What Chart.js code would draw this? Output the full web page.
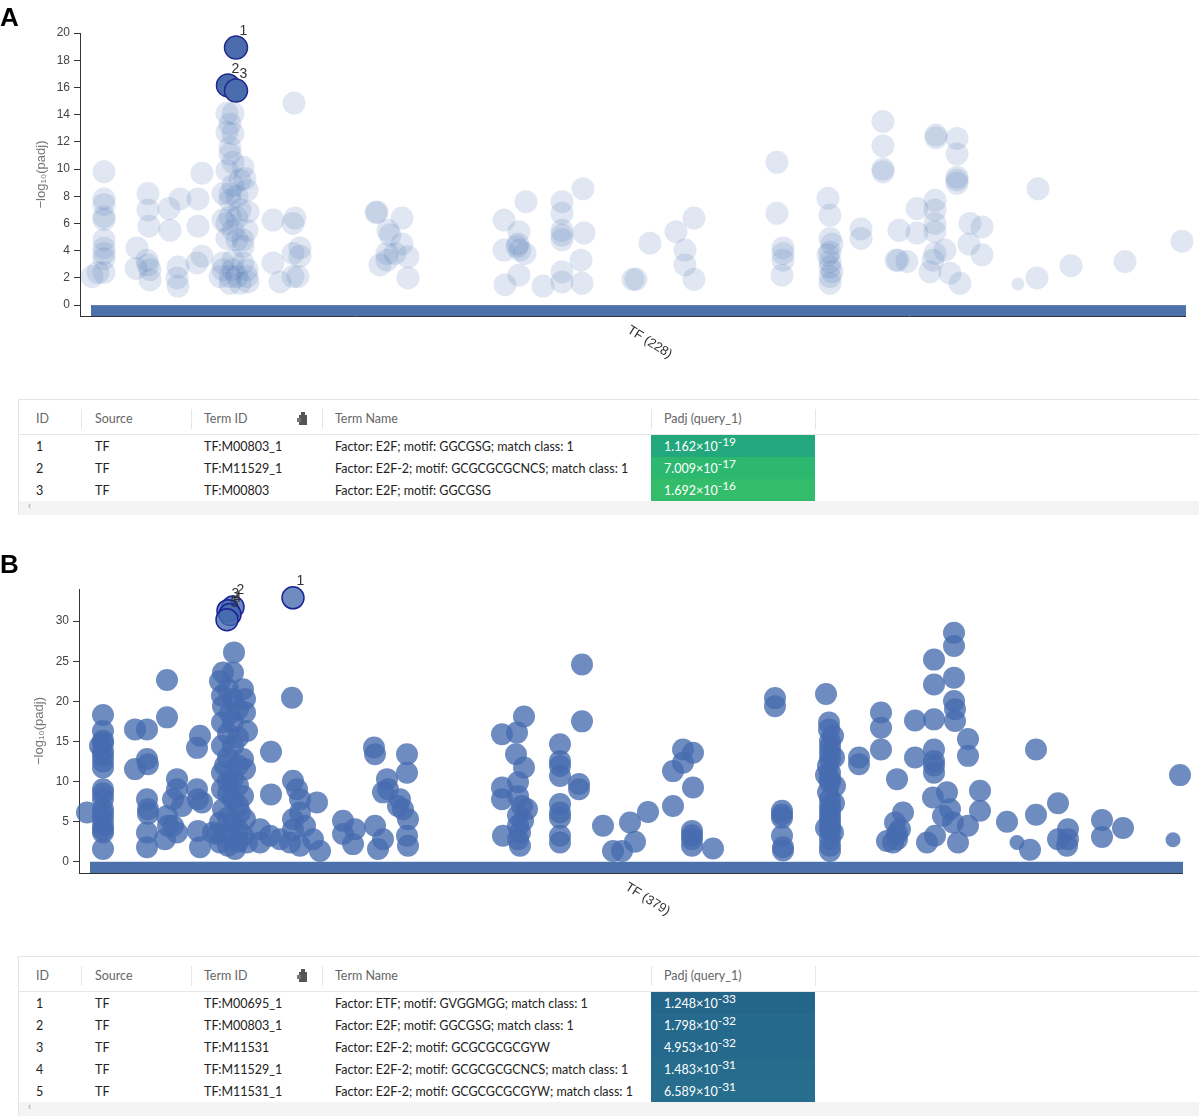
<!DOCTYPE html>
<html><head><meta charset="utf-8">
<script src="https://cdn.jsdelivr.net/npm/chart.js@4.4.0/dist/chart.umd.min.js"></script>
<style>
html,body{margin:0;padding:0;background:#fff;}
body{width:1199px;height:1116px;position:relative;overflow:hidden;font-family:Lato,"Noto Sans",sans-serif;}
canvas{position:absolute;left:0;}
.panel{position:absolute;left:0;font:bold 26px "Liberation Sans",Arial,sans-serif;color:#000;line-height:26px;}
.tbox{position:absolute;left:18px;right:0;border-top:1px solid #e4e4e4;border-left:1px solid #e4e4e4;}
.t{position:absolute;white-space:nowrap;line-height:22px;}
.hd{color:#666;font-size:12.5px;}
.bd{color:#222;font-size:12.5px;}
.sep{position:absolute;width:1px;background:#e6e6e6;}
.hl{position:absolute;left:0;right:0;height:1px;background:#e6e6e6;}
.pcell{position:absolute;}
.pv{color:#fff;font-size:12.5px;}
.pv sup{font-size:12px;vertical-align:5px;line-height:0;}
.scroll{position:absolute;left:0;right:0;height:14px;background:#f4f4f4;}
</style></head><body>
<canvas id="cA" width="1199" height="360" style="top:0"></canvas>
<canvas id="cB" width="1199" height="360" style="top:560px"></canvas>
<div id="tables"></div>
<div class="panel" style="top:4px">A</div>
<div class="panel" style="top:551px">B</div>
<script>
// ---------- Panel A data ----------
const sourceA = "TF (228)";
const yTicksA = [0,2,4,6,8,10,12,14,16,18,20];
const termPosA = [
 1,13,13,13,13,13,13,13,13,13,13,7,
 46,45,57,57,58,57,59,59,56,78,79,89,87,86,87,107,107,111,111,106,
 136,142,136,142,139,139,136,152,154,156,132,139,142,139,149,157,132,139,146,156,136,146,152,142,152,132,142,152,129,139,146,156,139,149,157,142,132,156,136,149,146,142,139,
 182,182,189,203,204,202,209,209,202,207,202,
 286,285,297,299,311,311,296,289,296,304,317,317,
 413,413,414,435,428,427,429,434,428,426,452,
 471,471,471,471,471,492,493,490,471,471,491,
 542,545,559,585,603,594,594,603,
 686,686,692,692,691,692,
 737,739,739,741,739,739,739,741,739,739,737,770,770,
 792,792,792,792,807,816,805,808,826,826,
 845,845,866,866,866,866,866,844,844,844,844,844,842,839,854,859,869,879,878,891,891,
 946,947,980,1034,1091
];
const negLogPadjA = [
 2.1,9.8,7.8,7.4,6.5,6.3,4.8,4.2,3.8,3.4,2.4,2.4,
 4.2,2.7,8.2,7.0,5.8,2.95,2.6,1.85,3.3,7.1,5.5,7.8,2.8,2.0,1.4,7.8,5.8,9.7,3.6,3.1,
 14.1,14.1,12.7,12.6,11.6,11.1,9.9,10.15,9.3,8.45,8.2,8.2,8.8,7.7,9.2,6.85,6.25,6.5,6.4,5.5,4.9,4.8,4.8,5.5,4.3,3.1,3.3,3.1,2.1,2.1,2.1,2.1,1.6,1.6,1.7,2.6,2.6,2.6,6.0,7.0,8.0,10.5,13.3,
 6.25,3.1,1.7,14.85,6.4,6.0,4.2,3.6,3.8,2.1,2.1,
 6.85,6.8,5.5,5.15,6.4,4.5,3.8,2.95,3.3,3.8,3.55,2.0,
 6.25,4.05,1.5,7.6,5.4,4.5,4.05,3.8,2.2,4.3,1.4,
 7.6,6.75,5.5,5.15,4.8,8.55,5.3,3.3,2.45,1.7,1.6,
 1.9,1.9,4.55,5.4,6.4,4.05,2.95,1.9,
 10.5,6.75,3.8,4.2,2.2,3.3,
 7.85,6.6,4.9,4.5,3.9,3.2,2.8,2.45,2.1,1.6,3.7,5.6,4.9,
 13.5,11.7,10.0,9.8,3.3,3.2,3.3,5.5,7.1,5.3,
 12.5,12.3,12.25,11.1,9.2,8.95,9.4,7.7,7.0,6.0,5.4,3.8,3.3,2.45,4.05,2.35,1.6,6.0,4.5,5.75,3.7,
 2.0,8.55,2.9,3.2,4.7
];
const smallPosA = [927];
const smallNegLogA = [1.55];
const topIdsA = [1,2,3];
const topPosA = [145,137,145];
const topNegLogA = [18.93,16.15,15.77];

// ---------- Panel B data ----------
const sourceB = "TF (379)";
const yTicksB = [0,5,10,15,20,25,30];
const termPosB = [
 -3,13,13,13,13,13,13,13,13,13,13,13,13,13,13,13,13,13,13,10,
 45,45,57,57,58,57,58,57,57,58,
 77,77,77,78,75,87,87,83,92,87,83,
 107,110,107,108,112,108,110,
 144,133,143,130,153,132,143,155,133,155,132,143,157,132,143,153,155,132,143,132,153,143,133,150,130,143,155,127,140,153,130,145,157,123,
 138,148,138,148,138,148,138,148,138,148,138,148,138,148,135,140,
 170,170,180,190,181,181,202,203,207,210,203,210,200,210,223,227,230,215,203,
 253,253,265,263,
 284,285,285,288,293,297,293,298,317,317,310,313,318,317,318,308,
 412,427,434,426,434,412,412,428,428,432,437,433,413,430,430,428,428,428,
 470,470,470,470,470,470,470,470,470,492,492,489,489,
 513,523,532,540,545,558,583,583,593,603,593,603,602,602,602,623,602,
 685,685,692,692,692,693,692,693,
 736,739,739,740,740,738,740,738,740,740,740,740,740,743,745,743,740,740,740,740,740,740,740,740,740,744,744,736,736,
 769,769,791,791,791,807,813,805,797,807,810,807,803,
 825,825,844,844,844,844,844,844,843,857,837,845,853,860,863,868,878,844,
 864,864,864,864,865,865,878,878,890,890,
 917,940,946,946,968,978,978,977,968,1012,1012,1033,1090
];
const negLogPadjB = [
 6.15,18.3,16.3,15.1,13.8,13.2,11.75,9.05,7.8,6.55,5.3,4.5,3.65,1.6,14.8,12.5,8.5,6.0,4.0,14.45,
 16.5,11.55,16.5,12.8,12.15,7.8,6.55,3.65,1.8,6.0,
 22.65,18.0,5.7,4.5,2.8,10.3,9.05,7.8,6.95,3.65,4.5,
 14.2,15.7,9.05,7.8,7.4,3.85,1.8,
 26.1,23.6,23.6,22.5,21.5,20.7,20.3,20.3,19.4,18.6,17.35,17.35,16.3,14.45,14.45,12.8,11.55,11.1,10.3,9.05,8.2,7.8,6.55,6.15,4.9,4.9,5.3,3.45,3.25,3.25,2.4,1.6,2.4,3.65,
 21.5,19.0,16.0,15.5,13.0,12.0,10.0,9.5,8.5,7.0,5.5,4.0,2.0,2.5,12.0,18.5,
 4.05,2.4,3.25,2.8,13.7,8.4,20.45,10.1,9.05,7.8,5.3,6.15,2.4,2.0,2.8,7.4,1.35,4.5,4.0,
 5.1,3.45,4.05,2.2,
 14.25,13.4,4.5,1.6,2.8,10.3,8.65,9.05,13.4,11.1,7.8,6.55,5.3,3.25,2.0,6.95,
 15.9,16.1,18.1,13.4,11.75,9.25,7.8,9.9,8.2,6.95,6.55,5.1,3.25,3.65,2.0,2.8,5.8,4.5,
 14.65,12.55,11.95,10.7,7.2,6.15,5.5,3.25,2.4,24.6,17.5,9.7,9.05,
 4.5,1.35,1.35,4.9,2.5,6.2,6.95,11.3,14.0,13.6,12.35,9.25,3.85,2.8,2.0,1.65,3.3,
 20.4,19.4,6.35,5.5,3.25,1.8,5.9,1.4,
 20.9,17.35,16.5,15.05,13.6,11.95,10.3,8.65,6.95,5.7,4.5,2.8,1.35,15.7,9.45,3.65,14.3,12.8,11.1,9.9,7.8,6.3,5.1,3.9,2.0,13.0,7.3,10.8,4.2,
 13.0,12.15,18.6,16.7,14.0,10.3,6.15,4.9,2.6,2.8,4.05,3.5,2.4,
 17.6,13.0,25.2,22.1,17.75,14.0,12.55,11.1,8.0,8.65,2.4,3.25,5.7,6.55,4.9,2.4,4.5,12.0,
 28.55,26.9,22.95,20.05,19.0,17.55,15.3,13.2,8.85,6.35,
 5.0,1.5,14.0,5.85,7.3,4.05,2.8,2.0,2.8,5.2,3.1,4.2,10.8
];
const smallPosB = [927,1083];
const smallNegLogB = [2.4,2.75];
const topIdsB = [1,2,3,4,5];
const topPosB = [203,143,138,140,137];
const topNegLogB = [32.9,31.75,31.3,30.83,30.18];

// ---------- Table data ----------
const headers = ["ID","Source","Term ID","Term Name","Padj (query_1)"];
const idsA = ["1","2","3"];
const srcA = ["TF","TF","TF"];
const termIdA = ["TF:M00803_1","TF:M11529_1","TF:M00803"];
const termNameA = ["Factor: E2F; motif: GGCGSG; match class: 1","Factor: E2F-2; motif: GCGCGCGCNCS; match class: 1","Factor: E2F; motif: GGCGSG"];
const padjMantA = ["1.162","7.009","1.692"];
const padjExpA = ["-19","-17","-16"];
const idsB = ["1","2","3","4","5"];
const srcB = ["TF","TF","TF","TF","TF"];
const termIdB = ["TF:M00695_1","TF:M00803_1","TF:M11531","TF:M11529_1","TF:M11531_1"];
const termNameB = ["Factor: ETF; motif: GVGGMGG; match class: 1","Factor: E2F; motif: GGCGSG; match class: 1","Factor: E2F-2; motif: GCGCGCGCGYW","Factor: E2F-2; motif: GCGCGCGCNCS; match class: 1","Factor: E2F-2; motif: GCGCGCGCGYW; match class: 1"];
const padjMantB = ["1.248","1.798","4.953","1.483","6.589"];
const padjExpB = ["-33","-32","-32","-31","-31"];

// ---------- charts ----------
function pts(xs, ys){ return xs.map((x,i)=>({x:x, y:ys[i]})); }

function makeChart(id, c){
  const plug = {
    id: 'deco'+id,
    beforeDatasetsDraw(chart){
      const {ctx, chartArea:ca, scales:{x, y}} = chart;
      const x0 = x.getPixelForValue(0), y0 = y.getPixelForValue(0);
      ctx.save();
      ctx.fillStyle = '#4d71aa';
      ctx.fillRect(x0, y0, ca.right - x0, ca.bottom - y0);
      ctx.strokeStyle = '#333'; ctx.lineWidth = 1;
      ctx.beginPath(); ctx.moveTo(ca.left, ca.bottom + 0.5); ctx.lineTo(ca.right, ca.bottom + 0.5); ctx.stroke();
      ctx.restore();
    },
    afterDatasetsDraw(chart){
      const {ctx, chartArea:ca, scales:{x}} = chart;
      ctx.save();
      ctx.fillStyle = '#333';
      ctx.font = '14px "Liberation Sans", Arial, sans-serif';
      ctx.textAlign = 'center'; ctx.textBaseline = 'middle';
      const meta = chart.getDatasetMeta(2);
      meta.data.forEach((el, i) => { ctx.fillText(String(c.topIds[i]), el.x + 7.5, el.y - 16.5); });
      const x0 = x.getPixelForValue(0);
      const xc = (x0 + ca.right) / 2;
      ctx.translate(xc - 10, ca.bottom + 13);
      ctx.rotate(32 * Math.PI / 180);
      ctx.font = '13px "Liberation Sans", Arial, sans-serif';
      ctx.textAlign = 'left';
      ctx.fillText(c.xTitle, 0, 0);
      ctx.restore();
    }
  };
  return new Chart(document.getElementById(id), {
    type: 'scatter',
    data: { datasets: [
      { data: pts(c.xs, c.ys), pointRadius: c.r, pointHoverRadius: c.r, backgroundColor: c.fill, borderWidth: 0, clip: false },
      { data: pts(c.sx, c.sy), pointRadius: c.smallR, pointHoverRadius: c.smallR, backgroundColor: c.fill, borderWidth: 0, clip: false },
      { data: pts(c.tx, c.ty), pointRadius: c.r, pointHoverRadius: c.r, backgroundColor: c.topFill, borderColor: c.topBorder, borderWidth: 1.5, clip: false }
    ]},
    options: {
      responsive: false, animation: false, events: [],
      layout: { padding: { left: 0, right: c.padR, top: c.padT, bottom: c.padB } },
      plugins: { legend: { display: false }, tooltip: { enabled: false } },
      scales: {
        x: { type: 'linear', display: false, min: c.xMin, max: c.xMax },
        y: {
          type: 'linear', min: c.yMin, max: c.yMax,
          afterBuildTicks: ax => { ax.ticks = c.yTicks.map(v => ({ value: v })); },
          afterFit: ax => { ax.width = c.axisW; },
          ticks: { color: '#444', font: { size: 12, family: '"Liberation Sans", Arial, sans-serif' }, padding: 4, autoSkip: false },
          grid: { drawOnChartArea: false, color: '#333', tickLength: 6 },
          border: { display: true, color: '#333', width: 1 },
          title: { display: true, text: '−log₁₀(padj)', color: '#777', font: { size: 13, family: '"Liberation Sans", Arial, sans-serif' }, padding: { top: c.titlePad, bottom: 0 } }
        }
      }
    },
    plugins: [plug]
  });
}

makeChart('cA', {
  xs: termPosA, ys: negLogPadjA, sx: smallPosA, sy: smallNegLogA, tx: topPosA, ty: topNegLogA, topIds: topIdsA,
  r: 11.5, smallR: 6.5, fill: 'rgba(74,111,176,0.17)', topFill: 'rgb(74,107,172)', topBorder: 'rgb(30,40,140)',
  xMin: -11, xMax: 1095, yMin: -0.8, yMax: 20, yTicks: yTicksA, axisW: 80, padR: 13, padT: 33, padB: 44, titlePad: 34, xTitle: sourceA
});
makeChart('cB', {
  xs: termPosB, ys: negLogPadjB, sx: smallPosB, sy: smallNegLogB, tx: topPosB, ty: topNegLogB, topIds: topIdsB,
  r: 11, smallR: 7.5, fill: 'rgba(70,108,175,0.78)', topFill: 'rgba(70,108,175,0.78)', topBorder: 'rgb(25,35,150)',
  xMin: -11, xMax: 1093, yMin: -1.4, yMax: 34, yTicks: yTicksB, axisW: 79, padR: 16, padT: 29, padB: 47, titlePad: 32, xTitle: sourceB
});

// ---------- tables ----------
const colTextX = [17, 76, 185, 316, 645];   // relative to table left (18)
const colSepX = [62, 172, 303, 632, 796];
function buildTable(top, cols, mant, exps, colors){
  const box = document.createElement('div');
  box.className = 'tbox';
  const nRows = cols[0].length;
  const headH = 35, rowH = 22;
  box.style.top = top + 'px';
  box.style.height = (headH + nRows * rowH + 14) + 'px';
  let h = '';
  headers.forEach((t, i) => { h += `<div class="t hd" style="left:${colTextX[i]}px;top:8px">${t}</div>`; });
  colSepX.forEach(x => { h += `<div class="sep" style="left:${x}px;top:9px;height:20px"></div>`; });
  h += `<svg style="position:absolute;left:278px;top:12px" width="11" height="13" viewBox="0 0 11 13"><rect x="4" y="0" width="4" height="3" fill="#555"/><rect x="2" y="3" width="8" height="10" fill="#555"/><rect x="0" y="6" width="4" height="4" fill="#777"/></svg>`;
  h += `<div class="hl" style="top:${headH - 1}px"></div>`;
  for (let r = 0; r < nRows; r++){
    const y = headH + r * rowH;
    h += `<div class="pcell" style="left:${colSepX[4] - 164}px;width:164px;top:${y}px;height:${rowH}px;background:${colors[r]}"></div>`;
    for (let c = 0; c < 4; c++){
      h += `<div class="t bd" style="left:${colTextX[c]}px;top:${y + 1}px">${cols[c][r]}</div>`;
    }
    h += `<div class="t pv" style="left:${colTextX[4]}px;top:${y + 1}px">${mant[r]}×10<sup>${exps[r]}</sup></div>`;
  }
  const sy = headH + nRows * rowH;
  h += `<div class="scroll" style="top:${sy}px"><span style="position:absolute;left:9px;top:-3px;font-size:11px;color:#999">‹</span></div>`;
  box.innerHTML = h;
  document.getElementById('tables').appendChild(box);
}
buildTable(399, [idsA, srcA, termIdA, termNameA], padjMantA, padjExpA, ['#22a87c','#2db86f','#33bd6a']);
buildTable(956, [idsB, srcB, termIdB, termNameB], padjMantB, padjExpB, ['#24668a','#25698c','#256a8c','#266c8d','#276e8e']);
</script>
</body></html>
